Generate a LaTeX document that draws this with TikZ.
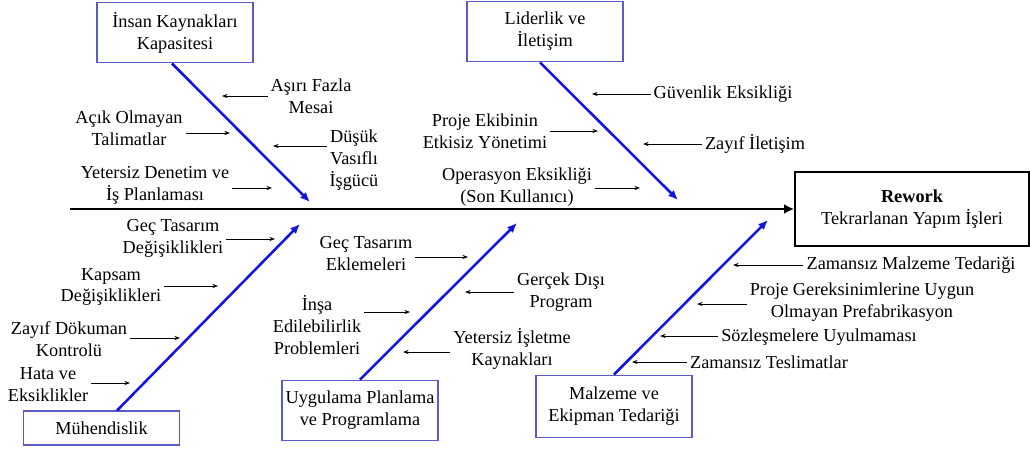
\documentclass[tikz,border=0pt]{standalone}
\usepackage{fontspec}
\setmainfont{Liberation Serif}
\usetikzlibrary{arrows.meta}
\definecolor{boxblue}{RGB}{90,90,200}
\definecolor{boneblue}{RGB}{20,20,225}

\begin{document}
\begin{tikzpicture}[x=0.025cm,y=-0.025cm,font=\fontsize{13}{15.6}\selectfont]
    \tikzstyle{cause}=[draw=boxblue,line width=0.8pt,align=center,minimum width=3.9cm,minimum height=1.52cm,inner sep=2pt]
    \tikzstyle{effect}=[draw=black,line width=1.3pt,align=center,minimum width=5.85cm,minimum height=1.85cm]
    \tikzstyle{lbl}=[align=center,inner sep=2pt]
    \tikzstyle{bone}=[draw=boneblue,line width=1.8pt,-{Latex[length=7pt,width=6pt]}]
    \tikzstyle{spine}=[draw=black,line width=2pt,-{Latex[length=7pt,width=7pt]}]
    \tikzstyle{sub}=[draw=black,line width=0.7pt,-{Stealth[length=4pt,width=3pt]}]
    \useasboundingbox (0,0) rectangle (1030,452);

    % head and spine
    \node[effect] (rework) at (912,209) {\textbf{Rework}\\Tekrarlanan Yapım İşleri};
    \coordinate (tail) at (70,209);
    \draw[spine] (tail) -- (rework.west);

    % main causes
    \node[cause] (insan) at (175,32.5) {İnsan Kaynakları\\Kapasitesi};
    \node[cause] (lider) at (545,31.5) {Liderlik ve\\İletişim};
    \node[cause,minimum height=0.85cm] (muh) at (101.5,428) {Mühendislik};
    \node[cause] (uyg) at (360,410.5) {Uygulama Planlama\\ve Programlama};
    \node[cause,minimum height=1.57cm] (malz) at (614,406.5) {Malzeme ve\\Ekipman Tedariği};

    \coordinate (tA) at (310,202);
    \coordinate (tB) at (678,200);
    \coordinate (tC) at (300,224);
    \coordinate (tD) at (517,223);
    \coordinate (tE) at (768,220);

    \draw[bone] ([xshift=-0.075cm]insan.south) -- (tA);
    \draw[bone] ([xshift=-0.125cm]lider.south) -- (tB);
    \draw[bone] ([xshift=0.39cm]muh.north) -- (tC);
    \draw[bone] (uyg.north) -- (tD);
    \draw[bone] (malz.north) -- (tE);

    % sub causes
    \foreach \name/\x/\y/\txt in {
        asiri/311/96/{Aşırı Fazla\\Mesai},
        acik/129/128/{Açık Olmayan\\Talimatlar},
        dusuk/354/160/{Düşük\\Vasıflı\\İşgücü},
        denetim/155/185/{Yetersiz Denetim ve\\İş Planlaması},
        guvenlik/723/94/{Güvenlik Eksikliği},
        ekip/485/131/{Proje Ekibinin\\Etkisiz Yönetimi},
        iletisim/755/144/{Zayıf İletişim},
        operasyon/517/187/{Operasyon Eksikliği\\(Son Kullanıcı)},
        tasarim/173/238/{Geç Tasarım\\Değişiklikleri},
        kapsam/111/287/{Kapsam\\Değişiklikleri},
        dokuman/69/339/{Zayıf Dökuman\\Kontrolü},
        hata/48/385/{Hata ve\\Eksiklikler},
        ekleme/366/254/{Geç Tasarım\\Eklemeleri},
        insa/317/325/{İnşa\\Edilebilirlik\\Problemleri},
        gercek/561/292/{Gerçek Dışı\\Program},
        isletme/512/349/{Yetersiz İşletme\\Kaynakları},
        tedarik/911/265/{Zamansız Malzeme Tedariği},
        prefab/862/302/{Proje Gereksinimlerine Uygun\\Olmayan Prefabrikasyon},
        sozlesme/819/337/{Sözleşmelere Uyulmaması},
        teslimat/769/362/{Zamansız Teslimatlar}}
        \node[lbl] (\name) at (\x,\y) {\txt};

    \foreach \from/\side/\x/\y in {
        asiri/west/222/96, acik/east/230/133, dusuk/west/273/146, denetim/east/272/188,
        guvenlik/west/592/94, ekip/east/598/131, iletisim/west/643/144, operasyon/east/640/188,
        tasarim/east/275/239, kapsam/east/218/286, dokuman/east/180/338, hata/east/130/383,
        ekleme/east/468/257, insa/east/410/312, gercek/west/465/292, isletme/west/403/352,
        tedarik/west/733/265, prefab/west/697/304, sozlesme/west/660/336, teslimat/west/632/362}
    {
        \coordinate (h-\from) at (\x,\y);
        \draw[sub] (\from.\side |- h-\from) -- (h-\from);
    }
\end{tikzpicture}
\end{document}
